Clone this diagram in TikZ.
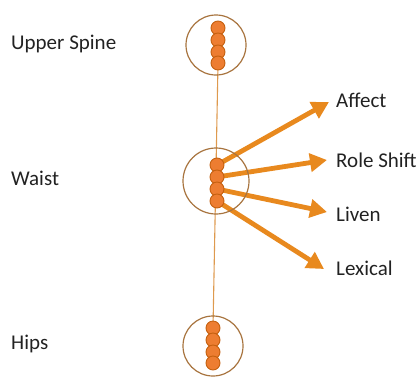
\documentclass[tikz,border=0pt]{standalone}
\usepackage{fontspec}
\setmainfont{Carlito}
\usetikzlibrary{arrows.meta,positioning,calc,backgrounds}
\definecolor{BeadOrange}{HTML}{ED7D31}
\definecolor{BeadEdge}{HTML}{C5600F}
\definecolor{RingBrown}{HTML}{A8743F}
\definecolor{SpineLine}{HTML}{DE9A4E}
\definecolor{ArrowOrange}{HTML}{E8891E}
\definecolor{LabelGrey}{HTML}{222222}

\begin{document}
\begin{tikzpicture}[
    x=1pt, y=-1pt,
    ring/.style={
      circle,
      draw=RingBrown,
      line width=1.2pt,
      minimum size=#1
    },
    bead/.style={
      circle,
      draw=BeadEdge,
      fill=BeadOrange,
      line width=0.9pt,
      inner sep=0pt,
      minimum size=14pt
    },
    lbl/.style={
      anchor=west,
      inner sep=0pt,
      text=LabelGrey,
      font=\fontsize{21}{25}\selectfont
    },
    arrow/.style={
      -{Triangle[length=17pt,width=18pt]},
      line width=4.8pt,
      color=ArrowOrange
    }
  ]
  \useasboundingbox (0,0) rectangle (419,378);

  % Rings
  \node[ring=60pt] (upper) at (216,45)  {};
  \node[ring=66pt] (waist) at (216,181) {};
  \node[ring=60pt] (hips)  at (213,346) {};

  % Beads
  \foreach \i/\y in {1/28,2/40,3/52,4/63}
    \node[bead] (up\i) at (218,\y) {};
  \foreach \i/\y in {1/165,2/177,3/189,4/201}
    \node[bead] (w\i) at (217,\y) {};
  \foreach \i/\y in {1/328,2/340,3/352,4/363}
    \node[bead] (hp\i) at (213,\y) {};

  % Left labels
  \node[lbl] (lupper) at (11,44)  {Upper Spine};
  \node[lbl] (lwaist) at (11,178) {Waist};
  \node[lbl] (lhips)  at (11,344) {Hips};

  % Right labels
  \node[lbl] (affect) at (336,100) {Affect};
  \node[lbl] (role)   at (336,160) {Role Shift};
  \node[lbl] (liven)  at (336,214) {Liven};
  \node[lbl] (lexi)   at (336,268) {Lexical};

  % Arrow tips
  \coordinate (taffect) at (329,102);
  \coordinate (trole)   at (327,160);
  \coordinate (tliven)  at (327,212);
  \coordinate (tlexi)   at (324,269);

  \begin{pgfonlayer}{background}
    % Spine
    \draw[SpineLine, line width=1.1pt] (up4.center) -- (hp1.center);
    % Arrows
    \draw[arrow] (w1.center) -- (taffect);
    \draw[arrow] (w2.center) -- (trole);
    \draw[arrow] (w3.center) -- (tliven);
    \draw[arrow] (w4.center) -- (tlexi);
  \end{pgfonlayer}

\end{tikzpicture}
\end{document}
